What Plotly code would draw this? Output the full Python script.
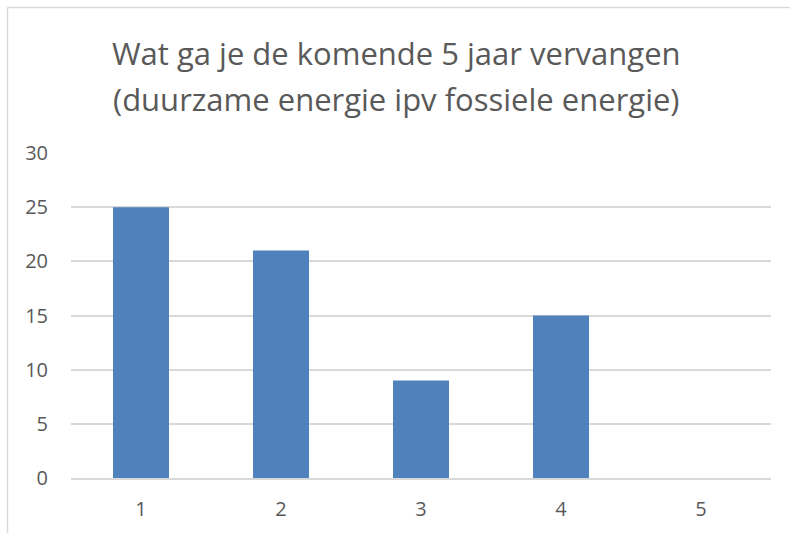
import plotly.graph_objects as go

categories = ["1", "2", "3", "4", "5"]
values = [25, 21, 9, 15, 0]
tick_vals = [0, 5, 10, 15, 20, 25, 30]
title_lines = ["Wat ga je de komende 5 jaar vervangen", "(duurzame energie ipv fossiele energie)"]

W, H = 790, 533
L, R, T, B = 71, 19, 153, 55
pw, ph = W - L - R, H - T - B

def px_to_paper_x(px):
    return (px - L) / pw

def px_to_paper_y(py):
    return (H - B - py) / ph

fig = go.Figure(go.Bar(
    x=categories, y=values,
    marker=dict(color="#4f81bd", line=dict(width=0)),
    width=0.4,
))

font = "'Open Sans', sans-serif"
fig.update_layout(
    width=W, height=H,
    margin=dict(l=L, r=R, t=T, b=B, autoexpand=False),
    paper_bgcolor="white", plot_bgcolor="white",
    showlegend=False,
    xaxis=dict(type="category", showgrid=False, showline=True, linecolor="#d9d9d9",
               linewidth=1.5, ticks="", tickfont=dict(family=font, size=20, color="#595959"),
               ticklabelstandoff=12),
    yaxis=dict(range=[0, 30], tickvals=tick_vals, showgrid=True, gridcolor="#d9d9d9",
               gridwidth=1.5, zeroline=False, showline=False, ticks="",
               tickfont=dict(family=font, size=20, color="#595959"),
               ticklabelstandoff=22),
    bargap=0.6,
)

# title lines
for line, cy in zip(title_lines, [53, 99]):
    fig.add_annotation(text=line, xref="paper", yref="paper",
                       x=px_to_paper_x(396), y=px_to_paper_y(cy),
                       xanchor="center", yanchor="middle", showarrow=False,
                       font=dict(family=font, size=31, color="#595959"))

# chart frame border (left and top edges visible)
fig.add_shape(type="line", xref="paper", yref="paper",
              x0=px_to_paper_x(7.5), x1=px_to_paper_x(800), y0=px_to_paper_y(7.5), y1=px_to_paper_y(7.5),
              line=dict(color="#d9d9d9", width=1.5))
fig.add_shape(type="line", xref="paper", yref="paper",
              x0=px_to_paper_x(7.5), x1=px_to_paper_x(7.5), y0=px_to_paper_y(7.5), y1=px_to_paper_y(545),
              line=dict(color="#d9d9d9", width=1.5))

fig.write_html("out.html", config={"displayModeBar": False},
               post_script="document.body.style.margin='0';document.body.style.overflow='hidden';")
